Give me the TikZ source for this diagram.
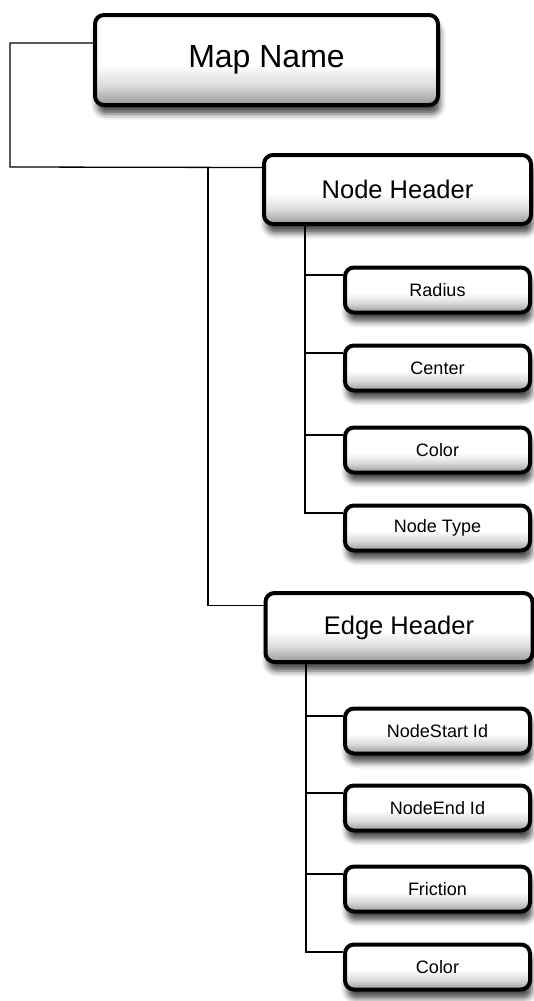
\documentclass[tikz,border=0pt]{standalone}
\usepackage{fontspec}
\setmainfont{Liberation Sans}
\usetikzlibrary{shadows.blur}
\pgfdeclareverticalshading{boxgloss}{100bp}{color(0bp)=(black!40); color(25bp)=(black!40); color(36bp)=(black!14); color(47bp)=(white); color(100bp)=(white)}
\begin{document}
\begin{tikzpicture}[x=1pt, y=-1pt,
  box/.style={draw=black, line width=4pt, rounded corners=9pt, shading=boxgloss,
    blur shadow={shadow xshift=2pt, shadow yshift=-9pt, shadow blur radius=6pt, shadow opacity=70}},
  rootbox/.style={box, minimum width=343pt, minimum height=90pt, font=\fontsize{32}{36}\selectfont},
  headbox/.style={box, minimum width=267pt, minimum height=69pt, font=\fontsize{25.5}{30}\selectfont},
  leafbox/.style={box, minimum width=185pt, minimum height=45pt, font=\fontsize{18}{22}\selectfont},
  wire/.style={line width=1.3pt}]
\useasboundingbox (0,0) rectangle (534,1001);
\node[rootbox] (mapname) at (266.5,60) {\raisebox{8pt}{Map Name}};
\node[headbox] (nodehdr) at (397.5,189.5) {Node Header};
\node[headbox] (edgehdr) at (399,627.5) {Edge Header};
\node[leafbox] (radius) at (437.5,290) {Radius};
\node[leafbox] (center) at (437.5,368) {Center};
\node[leafbox] (ncolor) at (437.5,450) {Color};
\node[leafbox] (ntype) at (437.5,528) {Node Type};
\node[leafbox] (estart) at (437.5,731) {NodeStart Id};
\node[leafbox] (eend) at (437.5,808) {NodeEnd Id};
\node[leafbox] (friction) at (437.5,889) {Friction};
\node[leafbox] (ecolor) at (437.5,967) {Color};
\coordinate (rootcorner) at (10,167);
\coordinate (split) at (208,167);
\coordinate (nbus) at (305,0);
\coordinate (ebus) at (306,0);
\draw[wire] ([yshift=17pt]mapname.west) -| (rootcorner) -- ([yshift=22pt]nodehdr.west);
\draw[wire] (split) |- ([yshift=22pt]edgehdr.west);
\foreach \leaf in {radius,center,ncolor,ntype}
  \draw[wire] (nodehdr.south -| nbus) |- ([yshift=15pt]\leaf.west);
\foreach \leaf in {estart,eend,friction,ecolor}
  \draw[wire] (edgehdr.south -| ebus) |- ([yshift=15pt]\leaf.west);
\end{tikzpicture}
\end{document}
